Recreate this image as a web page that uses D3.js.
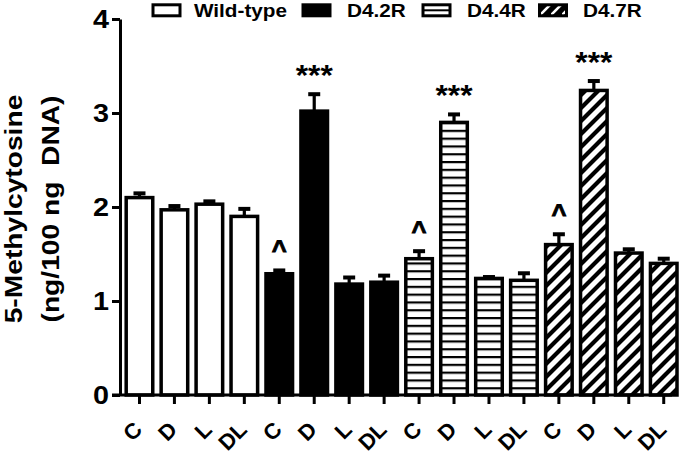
<!DOCTYPE html>
<html><head><meta charset="utf-8">
<script src="https://cdn.jsdelivr.net/npm/d3@7"></script>
<style>
body{margin:0;background:#fff}
svg text{font-family:"Liberation Sans",Arial,Helvetica,sans-serif;font-weight:bold;fill:#000}
</style>
</head><body><svg id="c" width="685" height="457"></svg>
<script>
// ---------- data ----------
const groups = ["Wild-type", "D4.2R", "D4.4R", "D4.7R"];
const treatments = ["C", "D", "L", "DL"];
const wildType    = [2.10, 1.97, 2.03, 1.90];
const wildTypeErr = [0.045, 0.04, 0.03, 0.08];
const d42R        = [1.29, 3.02, 1.18, 1.20];
const d42RErr     = [0.035, 0.18, 0.07, 0.07];
const d44R        = [1.45, 2.90, 1.24, 1.22];
const d44RErr     = [0.08, 0.085, 0.015, 0.075];
const d47R        = [1.60, 3.24, 1.51, 1.40];
const d47RErr     = [0.11, 0.10, 0.04, 0.05];
const significance = ["", "", "", "", "^", "***", "", "", "^", "***", "", "", "^", "***", "", ""];
const yTicks = [0, 1, 2, 3, 4];
const yTitle = ["5-Methylcytosine", "(ng/100 ng  DNA)"];

const means = [wildType, d42R, d44R, d47R];
const errs = [wildTypeErr, d42RErr, d44RErr, d47RErr];
const rows = [];
groups.forEach((g, gi) => treatments.forEach((t, ti) => {
  rows.push({key: g + "|" + t, group: g, gi, t, mean: means[gi][ti], err: errs[gi][ti], sig: significance[gi * 4 + ti]});
}));

// ---------- layout ----------
const svg = d3.select("#c");
const x = d3.scaleBand().domain(rows.map(d => d.key)).range([122, 681.2]).paddingInner(0.2).paddingOuter(0.1);
const y = d3.scaleLinear().domain([0, 4]).range([395, 19]);
const cx = d => x(d.key) + x.bandwidth() / 2;
const STRETCH = 1.15;
function stretch(sel, k) {
  sel.each(function () {
    const L = this.getComputedTextLength();
    this.setAttribute("textLength", L * (k || STRETCH));
    this.setAttribute("lengthAdjust", "spacingAndGlyphs");
  });
}

// patterns
const defs = svg.append("defs");
const hl = defs.append("pattern").attr("id", "hl").attr("patternUnits", "userSpaceOnUse")
  .attr("width", 10).attr("height", 7.8).attr("y", 395);
hl.append("rect").attr("width", 10).attr("height", 7.8).attr("fill", "#fff");
hl.append("rect").attr("y", 0).attr("width", 10).attr("height", 2.2).attr("fill", "#000");
const dg = defs.append("pattern").attr("id", "dg").attr("patternUnits", "userSpaceOnUse")
  .attr("width", 13).attr("height", 13);
dg.append("rect").attr("width", 13).attr("height", 13).attr("fill", "#fff");
dg.append("path").attr("d", "M-2,15L15,-2M-8,8L8,-8M5,21L21,5").attr("stroke", "#000").attr("stroke-width", 4.2);
const dgL = defs.append("pattern").attr("id", "dgL").attr("patternUnits", "userSpaceOnUse")
  .attr("width", 11).attr("height", 11).attr("x", 540).attr("y", 4);
dgL.append("rect").attr("width", 11).attr("height", 11).attr("fill", "#000");
dgL.append("path").attr("d", "M0,11L11,0").attr("stroke", "#fff").attr("stroke-width", 2.6);

const fills = {"Wild-type": "#fff", "D4.2R": "#000", "D4.4R": "url(#hl)", "D4.7R": "url(#dg)"};

// bars
const bw = x.bandwidth() - 1.4;
svg.append("g").selectAll("rect").data(rows).join("rect")
  .attr("x", d => cx(d) - bw / 2)
  .attr("y", d => y(d.mean))
  .attr("width", bw)
  .attr("height", d => y(0) - y(d.mean))
  .attr("fill", d => fills[d.group])
  .attr("stroke", "#000").attr("stroke-width", 3.5);

// error bars (upper)
const eb = svg.append("g").selectAll("g").data(rows).join("g");
eb.append("line")
  .attr("x1", cx).attr("x2", cx)
  .attr("y1", d => y(d.mean)).attr("y2", d => y(d.mean + d.err))
  .attr("stroke", "#000").attr("stroke-width", 3.2);
eb.append("rect")
  .attr("x", d => cx(d) - 6).attr("y", d => y(d.mean + d.err) - 2)
  .attr("width", 12).attr("height", 4).attr("fill", "#000");

// significance marks
svg.append("g").selectAll("text").data(rows.filter(d => d.sig)).join("text")
  .attr("x", cx)
  .attr("y", d => y(d.mean + d.err) - 2 - (d.sig === "***" ? 7 : 9))
  .attr("text-anchor", "middle")
  .style("font-size", d => d.sig === "***" ? "30px" : "25px")
  .attr("stroke", d => d.sig === "***" ? "none" : "#000")
  .attr("stroke-width", 0.9)
  .text(d => d.sig)
  .attr("textLength", d => d.sig === "***" ? 37 : 15)
  .attr("lengthAdjust", "spacingAndGlyphs");

// y axis
const gy = svg.append("g").attr("transform", "translate(120,0)")
  .call(d3.axisLeft(y).tickValues(yTicks).tickFormat(d3.format("d")).tickSize(8).tickSizeOuter(0));
gy.selectAll("path,line").attr("stroke", "#000").attr("stroke-width", 3);
gy.selectAll("text").style("font-size", "25px").attr("x", -11).call(stretch);

// x axis (ticks from the band scale, labels drawn rotated)
const gx = svg.append("g").attr("transform", "translate(0,395)")
  .call(d3.axisBottom(x).tickSize(9).tickFormat(""));
gx.select(".domain").remove();
gx.selectAll("line").attr("stroke", "#000").attr("stroke-width", 3);
svg.append("line").attr("x1", 112).attr("x2", 672).attr("y1", y(0)).attr("y2", y(0))
  .attr("stroke", "#000").attr("stroke-width", 3);
svg.append("g").selectAll("text").data(rows).join("text")
  .attr("text-anchor", "end").style("font-size", "22px")
  .style("transform-box", "view-box").style("transform-origin", "0 0")
  .style("transform", d => "translate(" + (cx(d) + 4) + "px," + (y(0) + 36) + "px) rotate(-45deg)")
  .text(d => d.t);

// y title
svg.append("g").selectAll("text").data(yTitle).join("text")
  .attr("transform", (d, i) => `translate(${22 + i * 36.5},209) rotate(-90)`)
  .attr("text-anchor", "middle").style("font-size", "24.5px").style("white-space", "pre")
  .text(d => d).call(stretch);

// legend
const legendBoxX = [153, 303, 423, 539.5];
const legendTextX = [194, 347, 467, 583];
const lg = svg.append("g");
groups.forEach((g, i) => {
  lg.append("rect").attr("x", legendBoxX[i]).attr("y", 4.8).attr("width", 27).attr("height", 11)
    .attr("fill", g === "D4.7R" ? "url(#dgL)" : (g === "D4.4R" ? "#fff" : fills[g]))
    .attr("stroke", "#000").attr("stroke-width", 3);
  if (g === "D4.4R") {
    lg.append("line").attr("x1", legendBoxX[i]).attr("x2", legendBoxX[i] + 27)
      .attr("y1", 10.3).attr("y2", 10.3).attr("stroke", "#000").attr("stroke-width", 2);
  }
  lg.append("text").attr("x", legendTextX[i]).attr("y", 16.8).style("font-size", "18px").text(g).call(stretch);
});
</script>
</body></html>
